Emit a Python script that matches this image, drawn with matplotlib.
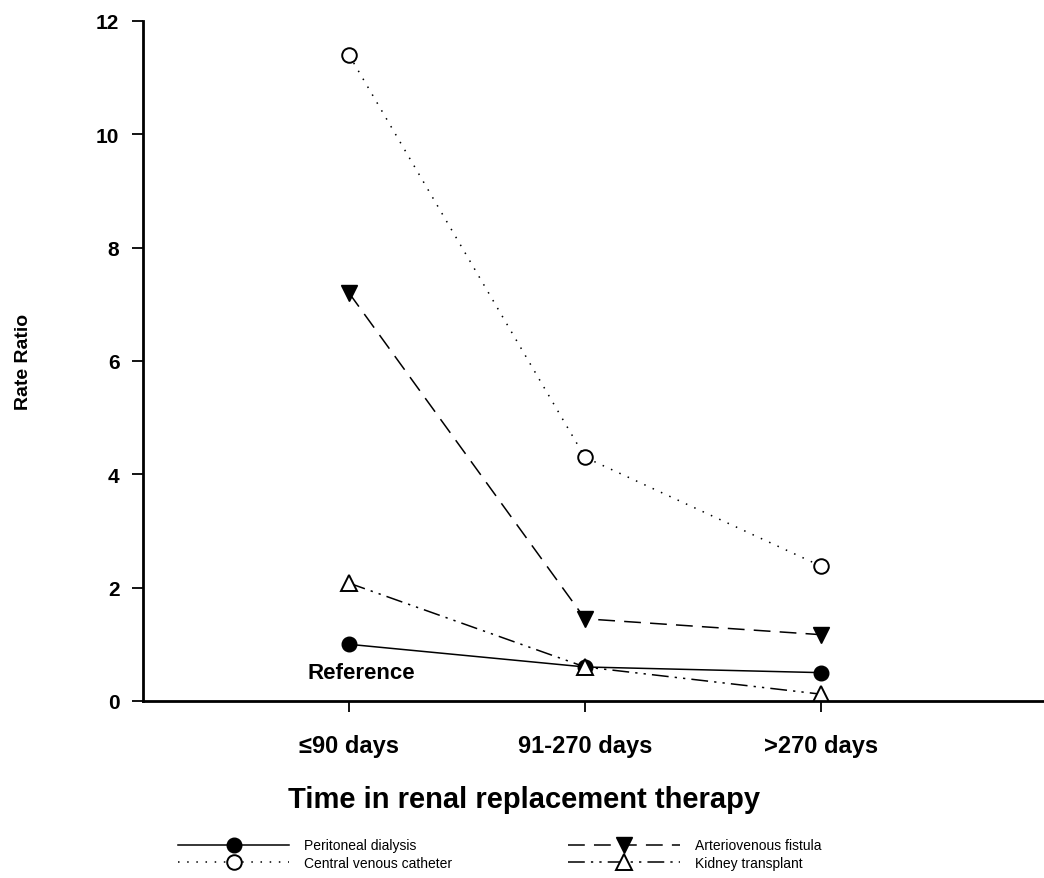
import numpy as np
import matplotlib
matplotlib.use("Agg")
import matplotlib.pyplot as plt

plt.rcParams['font.family'] = ['Liberation Sans', 'DejaVu Sans']

# data
periods = ['≤90 days', '91-270 days', '>270 days']
peritoneal = [1.0, 0.6, 0.5]
fistula = [7.2, 1.45, 1.17]
catheter = [11.4, 4.3, 2.38]
transplant = [2.08, 0.6, 0.12]
yticks = [0, 2, 4, 6, 8, 10, 12]

fig = plt.figure(figsize=(10.44, 8.79), dpi=100)
ax = fig.add_axes([0.137, 0.2014, 0.863, 0.7736])

x = np.arange(len(periods))
ms = 10.5
l1, = ax.plot(x, peritoneal, color='black', lw=1.1, ls='-', marker='o',
              ms=ms, mfc='black', mec='black', label='Peritoneal dialysis')
l2, = ax.plot(x, catheter, color='black', lw=1.1, ls=(0, (1, 5)), marker='o',
              ms=ms, mfc='white', mec='black', mew=1.4, label='Central venous catheter')
l3, = ax.plot(x, fistula, color='black', lw=1.1, ls=(0, (11, 6)), marker='v',
              ms=ms + 1, mfc='black', mec='black', label='Arteriovenous fistula')
l4, = ax.plot(x, transplant, color='black', lw=1.1, ls=(0, (11, 4, 1.5, 4, 1.5, 4)),
              marker='^', ms=ms + 1, mfc='white', mec='black', mew=1.4,
              label='Kidney transplant')

ax.text(0.05, 0.5, 'Reference', ha='center', va='center', fontsize=16, fontweight='bold')

ax.set_xlim(-0.873, 2.945)
ax.set_ylim(0, 12)
ax.set_xticks(x)
ax.set_xticklabels(periods, fontsize=17, fontweight='bold')
ax.set_yticks(yticks)
ax.set_yticklabels([str(t) for t in yticks], fontsize=15, fontweight='bold')
ax.tick_params(axis='both', direction='out', length=8, width=1.3)
ax.tick_params(axis='x', pad=16)
ax.tick_params(axis='y', pad=9)

for s in ['top', 'right']:
    ax.spines[s].set_visible(False)
for s in ['left', 'bottom']:
    ax.spines[s].set_linewidth(2)

# x title sits left of the axes centre in the original
fig.text(0.502, 0.09, 'Time in renal replacement therapy', ha='center', va='center',
         fontsize=21, fontweight='bold')
ax.set_ylabel('Rate Ratio', fontsize=14, fontweight='bold', labelpad=46)

fig.legend(handles=[l1, l2, l3, l4], loc='upper left', ncol=2,
           bbox_to_anchor=(0.1705, 0.045), frameon=False, fontsize=10,
           handlelength=8, handletextpad=1.1, columnspacing=8.35,
           labelspacing=0.25, borderpad=0, borderaxespad=0)

fig.savefig('out.png', dpi=100)
